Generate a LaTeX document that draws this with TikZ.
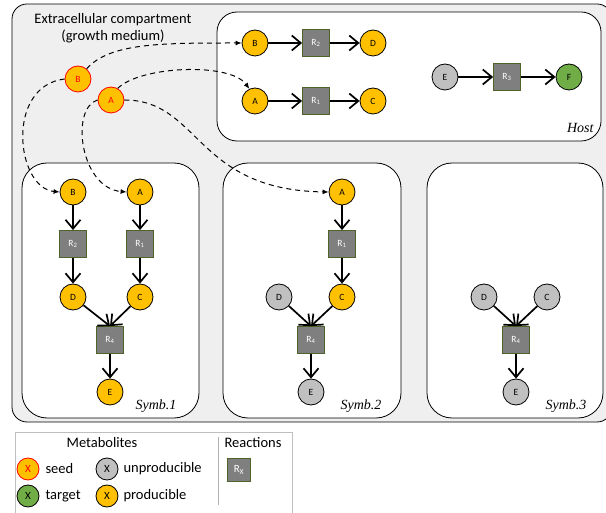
\documentclass[tikz,border=0pt]{standalone}
\usepackage{fontspec}
\setmainfont{Carlito}
\newfontfamily\serifit{Liberation Serif}
\usetikzlibrary{arrows.meta}
\definecolor{prod}{HTML}{FFC000}
\definecolor{unpc}{HTML}{C0C0C0}
\definecolor{targc}{HTML}{70AD47}
\definecolor{rxnfill}{HTML}{7F7F7F}
\definecolor{rxnborder}{HTML}{4F6228}
\definecolor{outerfill}{HTML}{EFEFEF}
\begin{document}
\begin{tikzpicture}[x=1pt,y=-1pt,
 met/.style={circle,draw=black,line width=0.8pt,minimum size=26pt,inner sep=0pt,font=\fontsize{9.5}{10}\selectfont},
 prodn/.style={met,fill=prod},
 unp/.style={met,fill=unpc},
 targ/.style={met,fill=targc},
 seedn/.style={met,fill=prod,draw=red,text=red},
 rxn/.style={rectangle,draw=rxnborder,fill=rxnfill,line width=0.8pt,minimum size=27pt,inner sep=0pt,text=white,font=\fontsize{9.5}{10}\selectfont},
 flow/.style={line width=1.7pt,-{Straight Barb[length=9pt,width=15pt]}},
 trans/.style={line width=1pt,dash pattern=on 5pt off 4pt,-{Latex[length=6pt,width=5pt]}},
 compart/.style={draw=black,fill=white,line width=0.8pt},
 lbl/.style={font=\serifit\itshape\fontsize{14}{16}\selectfont,anchor=east},
 txt/.style={font=\fontsize{14.5}{17}\selectfont},
 legm/.style={met,minimum size=22pt,font=\fontsize{11}{12}\selectfont},
]
\useasboundingbox (0,0) rectangle (606,513);
% outer compartment
\draw[fill=outerfill,rounded corners=15pt,line width=0.8pt] (12,4) rectangle (612,422);
\node[txt,align=center] (title) at (113,28) {Extracellular compartment\\(growth medium)};
% host and symbionts
\draw[compart,rounded corners=20pt] (217,12) rectangle (601,141);
\draw[compart,rounded corners=25pt] (22,163) rectangle (199,418);
\draw[compart,rounded corners=25pt] (223,163) rectangle (401,418);
\draw[compart,rounded corners=25pt] (427,163) rectangle (603,418);
\node[lbl] (hostl) at (597,128) {Host};
\node[lbl] (s1l) at (180,406) {Symb.1};
\node[lbl] (s2l) at (385,406) {Symb.2};
\node[lbl] (s3l) at (590,406) {Symb.3};
% host nodes
\node[prodn] (hB) at (255,43) {B};
\node[rxn] (hR2) at (316,43) {R\textsubscript{2}};
\node[prodn] (hD) at (373,43) {D};
\node[prodn] (hA) at (255,101) {A};
\node[rxn] (hR1) at (316,101) {R\textsubscript{1}};
\node[prodn] (hC) at (373,101) {C};
\node[unp] (hE) at (445,77) {E};
\node[rxn] (hR3) at (507,77) {R\textsubscript{3}};
\node[targ] (hF) at (569,77) {F};
\draw[flow] (hB) -- (hR2);
\draw[flow] (hR2) -- (hD);
\draw[flow] (hA) -- (hR1);
\draw[flow] (hR1) -- (hC);
\draw[flow] (hE) -- (hR3);
\draw[flow] (hR3) -- (hF);
% seeds
\node[seedn] (sB) at (78,79) {B};
\node[seedn] (sA) at (111,100) {A};
% symb 1
\node[prodn] (aB) at (73,192) {B};
\node[prodn] (aA) at (140,192) {A};
\node[rxn] (aR2) at (73,244) {R\textsubscript{2}};
\node[rxn] (aR1) at (140,244) {R\textsubscript{1}};
\node[prodn] (aD) at (73,297) {D};
\node[prodn] (aC) at (140,297) {C};
\node[rxn] (aR4) at (110,340) {R\textsubscript{4}};
\node[prodn] (aE) at (110,392) {E};
\draw[flow] (aB) -- (aR2);
\draw[flow] (aR2) -- (aD);
\draw[flow] (aA) -- (aR1);
\draw[flow] (aR1) -- (aC);
\draw[flow] (aD) -- (aR4.north);
\draw[flow] (aC) -- (aR4.north);
\draw[flow] (aR4) -- (aE);
% symb 2
\node[prodn] (bA) at (342,192) {A};
\node[rxn] (bR1) at (342,244) {R\textsubscript{1}};
\node[prodn] (bC) at (342,297) {C};
\node[unp] (bD) at (279,297) {D};
\node[rxn] (bR4) at (311,340) {R\textsubscript{4}};
\node[unp] (bE) at (311,392) {E};
\draw[flow] (bA) -- (bR1);
\draw[flow] (bR1) -- (bC);
\draw[flow] (bD) -- (bR4.north);
\draw[flow] (bC) -- (bR4.north);
\draw[flow] (bR4) -- (bE);
% symb 3
\node[unp] (cD) at (484,297) {D};
\node[unp] (cC) at (547,297) {C};
\node[rxn] (cR4) at (516,340) {R\textsubscript{4}};
\node[unp] (cE) at (516,392) {E};
\draw[flow] (cD) -- (cR4.north);
\draw[flow] (cC) -- (cR4.north);
\draw[flow] (cR4) -- (cE);
% transport arrows
\draw[trans] (sB.50) .. controls (110,43) and (160,43) .. (hB.west);
\draw[trans] (sA.60) .. controls (140,66) and (230,62) .. (hA.115);
\draw[trans] (sB.west) .. controls (5,86) and (16,188) .. (aB.west);
\draw[trans] (sA.west) .. controls (70,108) and (80,188) .. (aA.west);
\draw[trans] (sA.east) .. controls (200,100) and (195,190) .. (bA.west);
% legend
\draw[draw=black!25,fill=white,line width=0.8pt] (15,432) rectangle (292,520);
\node[txt] (legmet) at (102,443) {Metabolites};
\node[txt] (legrx) at (253,443) {Reactions};
\draw[draw=black!30,line width=0.8pt] (218,437) -- (218,505);
\node[legm,fill=prod,draw=red,text=red] (lseed) at (28,469) {X};
\node[txt,anchor=west] (tseed) at (42,469) {seed};
\node[legm,fill=unpc] (lunp) at (107,469) {X};
\node[txt,anchor=west] (tunp) at (120,469) {unproducible};
\node[legm,fill=targc] (ltarg) at (28,496) {X};
\node[txt,anchor=west] (ttarg) at (42,496) {target};
\node[legm,fill=prod] (lprod) at (107,496) {X};
\node[txt,anchor=west] (tprod) at (120,496) {producible};
\node[rxn,minimum size=23pt,font=\fontsize{11}{12}\selectfont] (lrx) at (239,470) {R\textsubscript{X}};
\end{tikzpicture}
\end{document}
